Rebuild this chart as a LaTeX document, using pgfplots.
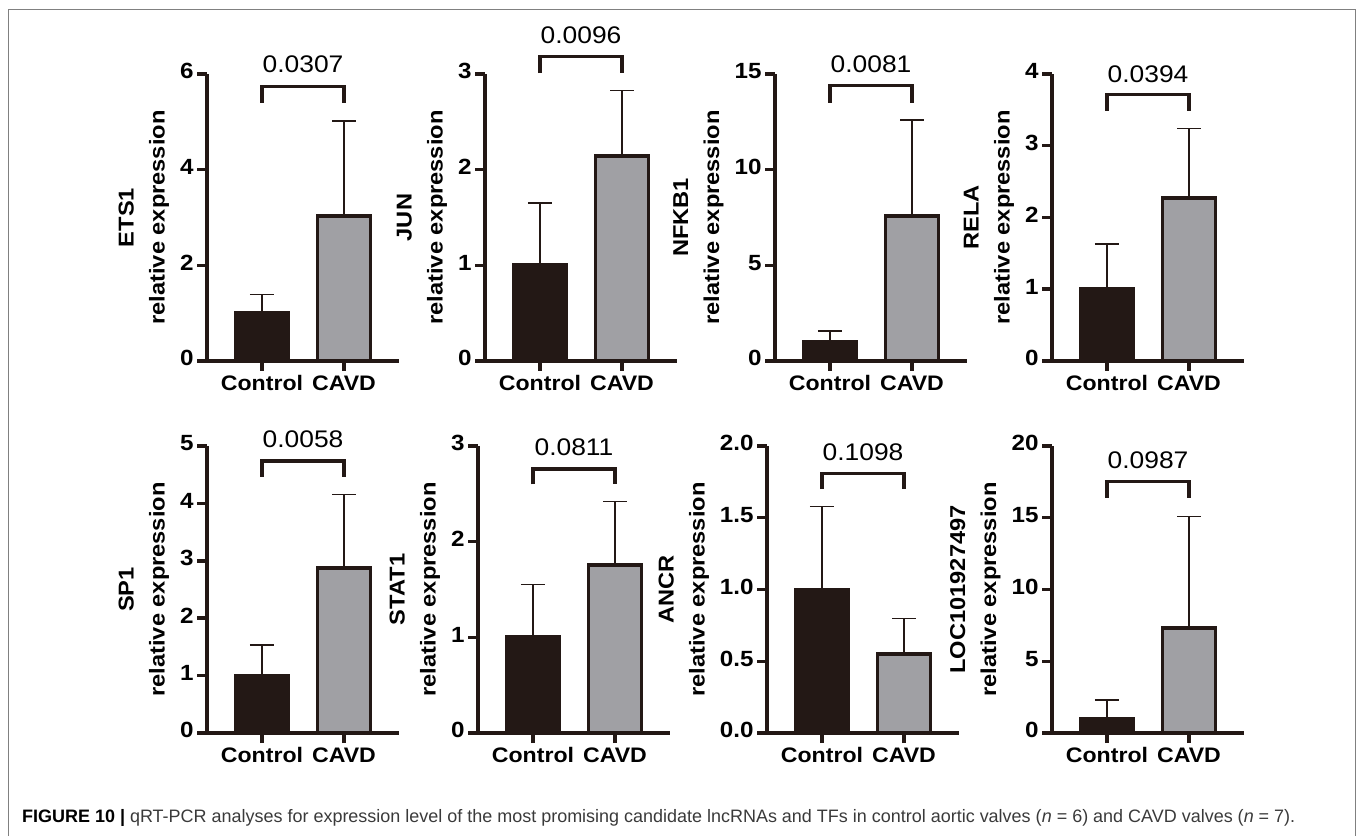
\documentclass[border=0pt]{standalone}
\usepackage{pgfplots}
\pgfplotsset{compat=1.18}
\usepackage{fontspec}
\setmainfont{Liberation Sans}
\newfontfamily\axfont[FakeStretch=1.1]{Liberation Sans}
\definecolor{ctrl}{HTML}{231815}
\definecolor{cavd}{HTML}{A0A0A4}
\definecolor{framec}{HTML}{808080}
\definecolor{captxt}{HTML}{3A3A3A}

\pgfplotsset{
 panel/.style={
  scale only axis, width=192pt, height=287pt, anchor=south west,
  xmin=-0.67, xmax=1.67, ymin=0,
  axis x line*=bottom, axis y line*=left,
  axis line style={line width=3.8pt, ctrl},
  xtick={0,1}, xticklabels={Control,CAVD},
  tick align=outside, major tick length=10pt,
  major tick style={line width=3.5pt, ctrl},
  typeset ticklabels with strut,
  /pgf/number format/assume math mode=true,
  tick label style={font=\axfont\bfseries\fontsize{21}{23}\selectfont, text=black},
  yticklabel style={font=\axfont\bfseries\fontsize{22}{24}\selectfont},
  ylabel style={font=\axfont\bfseries\fontsize{21.5}{31}\selectfont, align=center},
  ylabel shift=4pt,
  clip=false,
 },
 ctrlbar/.style={ybar, bar width=53pt, bar shift=0pt, fill=ctrl, draw=ctrl, line width=3.8pt,
   error bars/.cd, y dir=plus, y explicit,
   error bar style={line width=1.4pt, ctrl},
   error mark options={rotate=90, mark size=12pt, line width=1.4pt, ctrl}},
 cavdbar/.style={ybar, bar width=53pt, bar shift=0pt, fill=cavd, draw=ctrl, line width=3.8pt,
   error bars/.cd, y dir=plus, y explicit,
   error bar style={line width=1.4pt, ctrl},
   error mark options={rotate=90, mark size=12pt, line width=1.4pt, ctrl}},
 brk/.style={line width=3.2pt, ctrl, line join=miter, mark=none},
}
\newcommand{\ptext}{\axfont\fontsize{24}{26}\selectfont}

\begin{document}
\begin{tikzpicture}
\useasboundingbox (0,0) rectangle (1357pt,836pt);
\draw[framec, line width=1pt] (8pt,0pt) -- (8pt,826pt) -- (1355pt,826pt) -- (1355pt,0pt);

% ETS1
\begin{axis}[panel, at={(207pt,475pt)}, ymax=6, ytick={0,2,4,6}, ylabel={ETS1\\relative expression}]
\addplot[ctrlbar] coordinates {(0,1.0) +- (0,0.39)};
\addplot[cavdbar] coordinates {(1,3.03) +- (0,1.99)};
\addplot[brk] coordinates {(0,5.4) (0,5.74) (1,5.74) (1,5.4)};
\node[font=\ptext] at (axis cs:0.5,6.2) {0.0307};
\end{axis}

% JUN
\begin{axis}[panel, at={(485pt,475pt)}, ymax=3, ytick={0,1,2,3}, ylabel={JUN\\relative expression}]
\addplot[ctrlbar] coordinates {(0,1.0) +- (0,0.65)};
\addplot[cavdbar] coordinates {(1,2.14) +- (0,0.69)};
\addplot[brk] coordinates {(0,3.01) (0,3.18) (1,3.18) (1,3.01)};
\node[font=\ptext] at (axis cs:0.5,3.40) {0.0096};
\end{axis}

% NFKB1
\begin{axis}[panel, at={(775pt,475pt)}, ymax=15, ytick={0,5,10,15}, ylabel={NFKB1\\relative expression}]
\addplot[ctrlbar] coordinates {(0,1.0) +- (0,0.57)};
\addplot[cavdbar] coordinates {(1,7.57) +- (0,5.03)};
\addplot[brk] coordinates {(0,13.5) (0,14.38) (1,14.38) (1,13.5)};
\node[font=\ptext] at (axis cs:0.5,15.52) {0.0081};
\end{axis}

% RELA
\begin{axis}[panel, at={(1052pt,475pt)}, ymax=4, ytick={0,1,2,3,4}, ylabel={RELA\\relative expression}]
\addplot[ctrlbar] coordinates {(0,1.0) +- (0,0.63)};
\addplot[cavdbar] coordinates {(1,2.27) +- (0,0.97)};
\addplot[brk] coordinates {(0,3.49) (0,3.71) (1,3.71) (1,3.49)};
\node[font=\ptext] at (axis cs:0.5,4.0) {0.0394};
\end{axis}

% SP1
\begin{axis}[panel, at={(207pt,103pt)}, ymax=5, ytick={0,1,2,3,4,5}, ylabel={SP1\\relative expression}]
\addplot[ctrlbar] coordinates {(0,1.0) +- (0,0.53)};
\addplot[cavdbar] coordinates {(1,2.87) +- (0,1.29)};
\addplot[brk] coordinates {(0,4.46) (0,4.74) (1,4.74) (1,4.46)};
\node[font=\ptext] at (axis cs:0.5,5.12) {0.0058};
\end{axis}

% STAT1
\begin{axis}[panel, at={(478pt,103pt)}, ymax=3, ytick={0,1,2,3}, ylabel={STAT1\\relative expression}]
\addplot[ctrlbar] coordinates {(0,1.0) +- (0,0.55)};
\addplot[cavdbar] coordinates {(1,1.76) +- (0,0.66)};
\addplot[brk] coordinates {(0,2.6) (0,2.76) (1,2.76) (1,2.6)};
\node[font=\ptext] at (axis cs:0.5,2.99) {0.0811};
\end{axis}

% ANCR
\begin{axis}[panel, at={(767pt,103pt)}, ymax=2, ytick={0,0.5,1,1.5,2},
  yticklabel style={/pgf/number format/.cd, fixed, fixed zerofill, precision=1},
  ylabel={ANCR\\relative expression}]
\addplot[ctrlbar] coordinates {(0,1.0) +- (0,0.58)};
\addplot[cavdbar] coordinates {(1,0.55) +- (0,0.25)};
\addplot[brk] coordinates {(0,1.70) (0,1.81) (1,1.81) (1,1.70)};
\node[font=\ptext] at (axis cs:0.5,1.96) {0.1098};
\end{axis}

% LOC101927497
\begin{axis}[panel, at={(1052pt,103pt)}, ymax=20, ytick={0,5,10,15,20}, ylabel={LOC101927497\\relative expression}]
\addplot[ctrlbar] coordinates {(0,1.0) +- (0,1.29)};
\addplot[cavdbar] coordinates {(1,7.34) +- (0,7.76)};
\addplot[brk] coordinates {(0,16.4) (0,17.5) (1,17.5) (1,16.4)};
\node[font=\ptext] at (axis cs:0.5,19.0) {0.0987};
\end{axis}

\node[anchor=base west, inner sep=0pt] at (22pt,14pt)
 {\resizebox{1273pt}{\height}{\fontsize{18}{20}\selectfont\textbf{FIGURE 10 |} \textcolor{captxt}{qRT-PCR analyses for expression level of the most promising candidate lncRNAs and TFs in control aortic valves (\textit{n} = 6) and CAVD valves (\textit{n} = 7).}}};
\end{tikzpicture}
\end{document}
